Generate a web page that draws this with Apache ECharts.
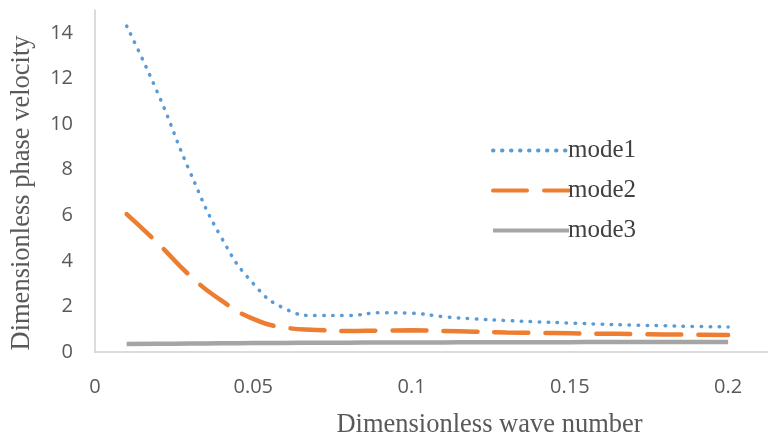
<!DOCTYPE html>
<html><head><meta charset="utf-8">
<script src="https://cdn.jsdelivr.net/npm/echarts@6/dist/echarts.min.js"></script>
<style>html,body{margin:0;padding:0;background:#fff}#c{width:768px;height:440px}</style>
</head><body><div id="c"></div>
<script>
const waveNumbers = [0.01,0.02,0.03,0.04,0.05,0.06,0.07,0.08,0.09,0.10,0.11,0.12,0.13,0.14,0.15,0.16,0.17,0.18,0.19,0.20];
const mode1 = [14.3,11.3,7.9,5.0,3.0,1.9,1.6,1.6,1.72,1.7,1.55,1.45,1.38,1.32,1.27,1.22,1.18,1.15,1.12,1.1];
const mode2 = [6.05,4.75,3.35,2.25,1.45,1.07,0.97,0.92,0.94,0.95,0.92,0.89,0.86,0.84,0.82,0.8,0.79,0.77,0.76,0.75];
const mode3 = [0.35,0.36,0.37,0.38,0.39,0.4,0.41,0.41,0.42,0.42,0.42,0.43,0.43,0.43,0.43,0.44,0.44,0.44,0.44,0.44];
const seriesNames = ['mode1','mode2','mode3'];

const pair = arr => waveNumbers.map((x,i)=>[x,arr[i]]);
const chart = echarts.init(document.getElementById('c'));
chart.setOption({
  animation:false,
  grid:{left:95,right:0,top:10,bottom:88,containLabel:false,outerBoundsMode:'none'},
  legend:{
    orient:'vertical',left:486,top:133,itemWidth:76,itemHeight:14,itemGap:15,
    itemStyle:{opacity:0},
    lineStyle:{width:4},
    textStyle:{fontFamily:'Liberation Serif',fontSize:25,color:'#404040',padding:[0,0,0,-6]},
    data:seriesNames
  },
  xAxis:{
    type:'value',min:0,max:0.2126,interval:0.05,
    axisLine:{show:true,lineStyle:{color:'#d0d0d0',width:1.5}},
    axisTick:{show:false},splitLine:{show:false},
    axisLabel:{showMaxLabel:false,margin:25,fontFamily:'Open Sans',fontSize:20,color:'#595959',
      formatter:v=>String(+v.toFixed(2))},
    name:'Dimensionless wave number',nameLocation:'middle',nameGap:60,
    nameTextStyle:{fontFamily:'Liberation Serif',fontSize:26.5,color:'#595959',padding:[0,0,0,116]}
  },
  yAxis:{
    type:'value',min:0,max:15,interval:2,
    axisLine:{show:true,lineStyle:{color:'#d0d0d0',width:1.5}},
    axisTick:{show:false},splitLine:{show:false},
    axisLabel:{showMaxLabel:false,margin:22,fontFamily:'Open Sans',fontSize:20,color:'#595959'},
    name:'Dimensionless phase velocity',nameLocation:'middle',nameGap:59,
    nameTextStyle:{fontFamily:'Liberation Serif',fontSize:26.5,color:'#595959',padding:[0,24,0,0]}
  },
  series:[
    {name:'mode1',type:'line',smooth:true,symbol:'none',data:pair(mode1),
      lineStyle:{color:'#5B9BD5',width:3.5,type:[0.5,8.5],cap:'round'},itemStyle:{color:'#5B9BD5'}},
    {name:'mode2',type:'line',smooth:true,symbol:'none',data:pair(mode2),
      lineStyle:{color:'#ED7D31',width:4.5,type:[34,17],cap:'round'},itemStyle:{color:'#ED7D31'}},
    {name:'mode3',type:'line',smooth:true,symbol:'none',data:pair(mode3),
      lineStyle:{color:'#A5A5A5',width:4.5},itemStyle:{color:'#A5A5A5'}}
  ]
});
</script></body></html>
